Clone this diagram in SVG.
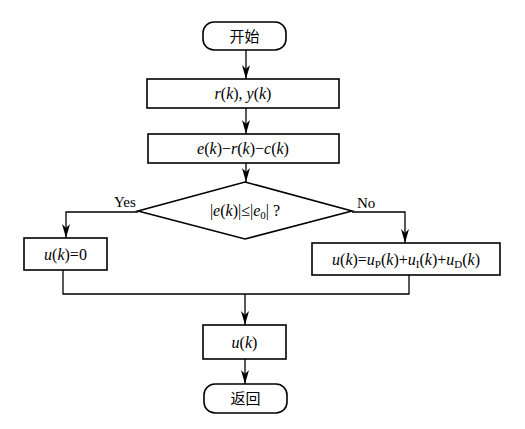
<svg xmlns="http://www.w3.org/2000/svg" width="525" height="429" viewBox="0 0 525 429">
<style>
.s{fill:#fff;stroke:#000;stroke-width:1.6}
.c{fill:none;stroke:#000;stroke-width:1.3}
.m{font-family:"Liberation Serif",serif;font-size:16px;fill:#000}
.i{font-style:italic}
.z{font-family:"Noto Sans CJK SC",sans-serif;font-size:15px;fill:#000}
.l{font-family:"Liberation Serif",serif;font-size:15px;fill:#000}
</style>
<defs>
<marker id="a" markerWidth="14" markerHeight="8" refX="14" refY="4" orient="auto" markerUnits="userSpaceOnUse" viewBox="0 0 14 8">
<path d="M0,0 L14,4 L0,8 L4,4 Z" fill="#000"/>
</marker>
</defs>
<g id="connectors">
<line class="c" x1="246" y1="50" x2="246" y2="79" marker-end="url(#a)"/>
<line class="c" x1="246" y1="108" x2="246" y2="134" marker-end="url(#a)"/>
<line class="c" x1="246" y1="163" x2="246" y2="182" marker-end="url(#a)"/>
<polyline class="c" points="138,212 66,212 66,238" marker-end="url(#a)"/>
<polyline class="c" points="352,212 405,212 405,243" marker-end="url(#a)"/>
<polyline class="c" points="63,270 63,294 409,294 409,275"/>
<line class="c" x1="245" y1="294" x2="245" y2="325" marker-end="url(#a)"/>
<line class="c" x1="245" y1="359" x2="245" y2="384" marker-end="url(#a)"/>
<text class="l" x="114" y="207">Yes</text>
<text class="l" x="357" y="208">No</text>
</g>
<g id="start">
<rect class="s" x="203" y="22" width="83" height="28" rx="11"/>
<text class="z" x="244.5" y="41.5" text-anchor="middle">开始</text>
</g>
<g id="input">
<rect class="s" x="147" y="79" width="192" height="29"/>
<text class="m" x="243" y="99" text-anchor="middle"><tspan class="i">r</tspan>(<tspan class="i">k</tspan>), <tspan class="i">y</tspan>(<tspan class="i">k</tspan>)</text>
</g>
<g id="error">
<rect class="s" x="148" y="134" width="191" height="29"/>
<text class="m" x="243" y="154" text-anchor="middle"><tspan class="i">e</tspan>(<tspan class="i">k</tspan>)−<tspan class="i">r</tspan>(<tspan class="i">k</tspan>)−<tspan class="i">c</tspan>(<tspan class="i">k</tspan>)</text>
</g>
<g id="decision">
<polygon class="s" points="245,182 352,211 245,239 138,211"/>
<text class="m" x="245" y="216" text-anchor="middle">|<tspan class="i">e</tspan>(<tspan class="i">k</tspan>)|≤|<tspan class="i">e</tspan><tspan font-size="11" dy="3">0</tspan><tspan dy="-3">| ?</tspan></text>
</g>
<g id="zero">
<rect class="s" x="24" y="238" width="83" height="32"/>
<text class="m" x="65.5" y="259.5" text-anchor="middle"><tspan class="i">u</tspan>(<tspan class="i">k</tspan>)=0</text>
</g>
<g id="pid">
<rect class="s" x="312" y="243" width="188" height="32"/>
<text class="m" x="406" y="264.5" text-anchor="middle"><tspan class="i">u</tspan>(<tspan class="i">k</tspan>)=<tspan class="i">u</tspan><tspan font-size="11" dy="3">P</tspan><tspan dy="-3">(</tspan><tspan class="i">k</tspan>)+<tspan class="i">u</tspan><tspan font-size="11" dy="3">I</tspan><tspan dy="-3">(</tspan><tspan class="i">k</tspan>)+<tspan class="i">u</tspan><tspan font-size="11" dy="3">D</tspan><tspan dy="-3">(</tspan><tspan class="i">k</tspan>)</text>
</g>
<g id="output">
<rect class="s" x="203" y="325" width="83" height="34"/>
<text class="m" x="244.5" y="347.5" text-anchor="middle"><tspan class="i">u</tspan>(<tspan class="i">k</tspan>)</text>
</g>
<g id="end">
<rect class="s" x="204" y="384" width="83" height="29" rx="11"/>
<text class="z" x="245.5" y="404" text-anchor="middle">返回</text>
</g>
</svg>
